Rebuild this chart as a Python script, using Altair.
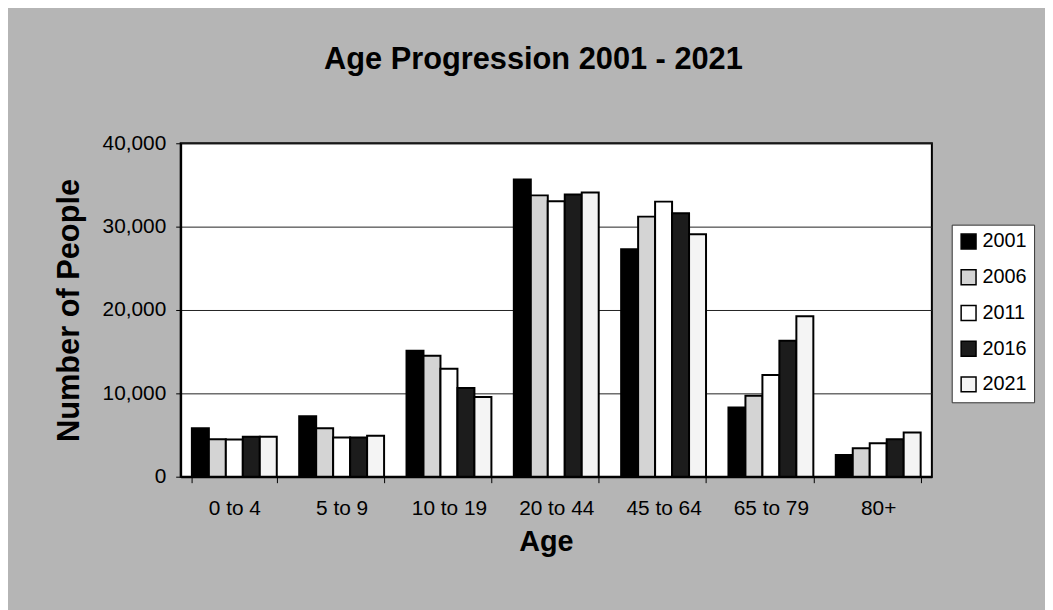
import altair as alt
import pandas as pd

ages = ["0 to 4", "5 to 9", "10 to 19", "20 to 44", "45 to 64", "65 to 79", "80+"]
years = ["2001", "2006", "2011", "2016", "2021"]
v2001 = [5800, 7250, 15100, 35650, 27300, 8300, 2600]
v2006 = [4500, 5800, 14500, 33750, 31200, 9700, 3400]
v2011 = [4450, 4700, 12950, 33050, 33000, 12200, 4000]
v2016 = [4800, 4700, 10650, 33850, 31600, 16300, 4500]
v2021 = [4800, 4900, 9550, 34100, 29100, 19250, 5300]
series = [v2001, v2006, v2011, v2016, v2021]
fills = ["#000000", "#d4d4d4", "#ffffff", "#1c1c1c", "#f4f4f4"]

rows = []
for y, vals in zip(years, series):
    for a, v in zip(ages, vals):
        rows.append({"Age": a, "Year": y, "People": v})
df = pd.DataFrame(rows)

FONT = "Liberation Sans"

chart = alt.Chart(df).mark_bar(stroke="black", strokeWidth=2).encode(
    x=alt.X("Age:N", sort=ages,
            scale=alt.Scale(paddingInner=0.209, paddingOuter=0.1045),
            axis=alt.Axis(title="Age", labelAngle=0, labelFontSize=21, labelFont=FONT,
                          labelColor="black", tickSize=6, tickColor="black",
                          tickBand="extent", labelPadding=15, domainColor="black",
                          domainWidth=2, titleFontSize=29, titleFont=FONT,
                          titleFontWeight="bold", titleColor="black",
                          titleX=368, titleY=74, titleBaseline="alphabetic",
                          titleAlign="center")),
    xOffset=alt.XOffset("Year:N", sort=years,
                        scale=alt.Scale(paddingInner=0, paddingOuter=0)),
    y=alt.Y("People:Q",
            scale=alt.Scale(domain=[0, 40000], nice=False),
            axis=alt.Axis(title="Number of People", values=[0, 10000, 20000, 30000, 40000],
                          format=",d", labelFontSize=21, labelFont=FONT, labelColor="black",
                          tickSize=5, tickColor="black", labelPadding=10,
                          domainColor="black", domainWidth=2,
                          grid=True, gridColor="#222222", gridWidth=1,
                          titleFontSize=31, titleFont=FONT, titleFontWeight="bold",
                          titleColor="black", titleX=-112, titleY=168,
                          titleBaseline="middle", titleAlign="center", titleAngle=-90)),
    fill=alt.Fill("Year:N", sort=years,
                  scale=alt.Scale(domain=years, range=fills),
                  legend=alt.Legend(title=None, orient="none", legendX=777, legendY=82,
                                    symbolType="square", symbolSize=225,
                                    symbolStrokeColor="black", symbolStrokeWidth=1.5,
                                    labelFontSize=20, labelFont=FONT, labelColor="black",
                                    rowPadding=14, padding=7, fillColor="white",
                                    strokeColor="#333333", labelOffset=4)),
).properties(
    width=757,
    height=336,
    autosize="none",
    padding={"left": 174, "top": 134, "right": 114, "bottom": 132},
    background="#b5b5b5",
    title=alt.TitleParams("Age Progression 2001 - 2021", fontSize=31, font=FONT,
                          fontWeight="bold", color="black", anchor="middle",
                          dx=-23, offset=57),
).configure_view(
    fill="white", stroke="black", strokeWidth=2
)

chart.save("out.html", embed_options={"renderer": "svg", "actions": False})
